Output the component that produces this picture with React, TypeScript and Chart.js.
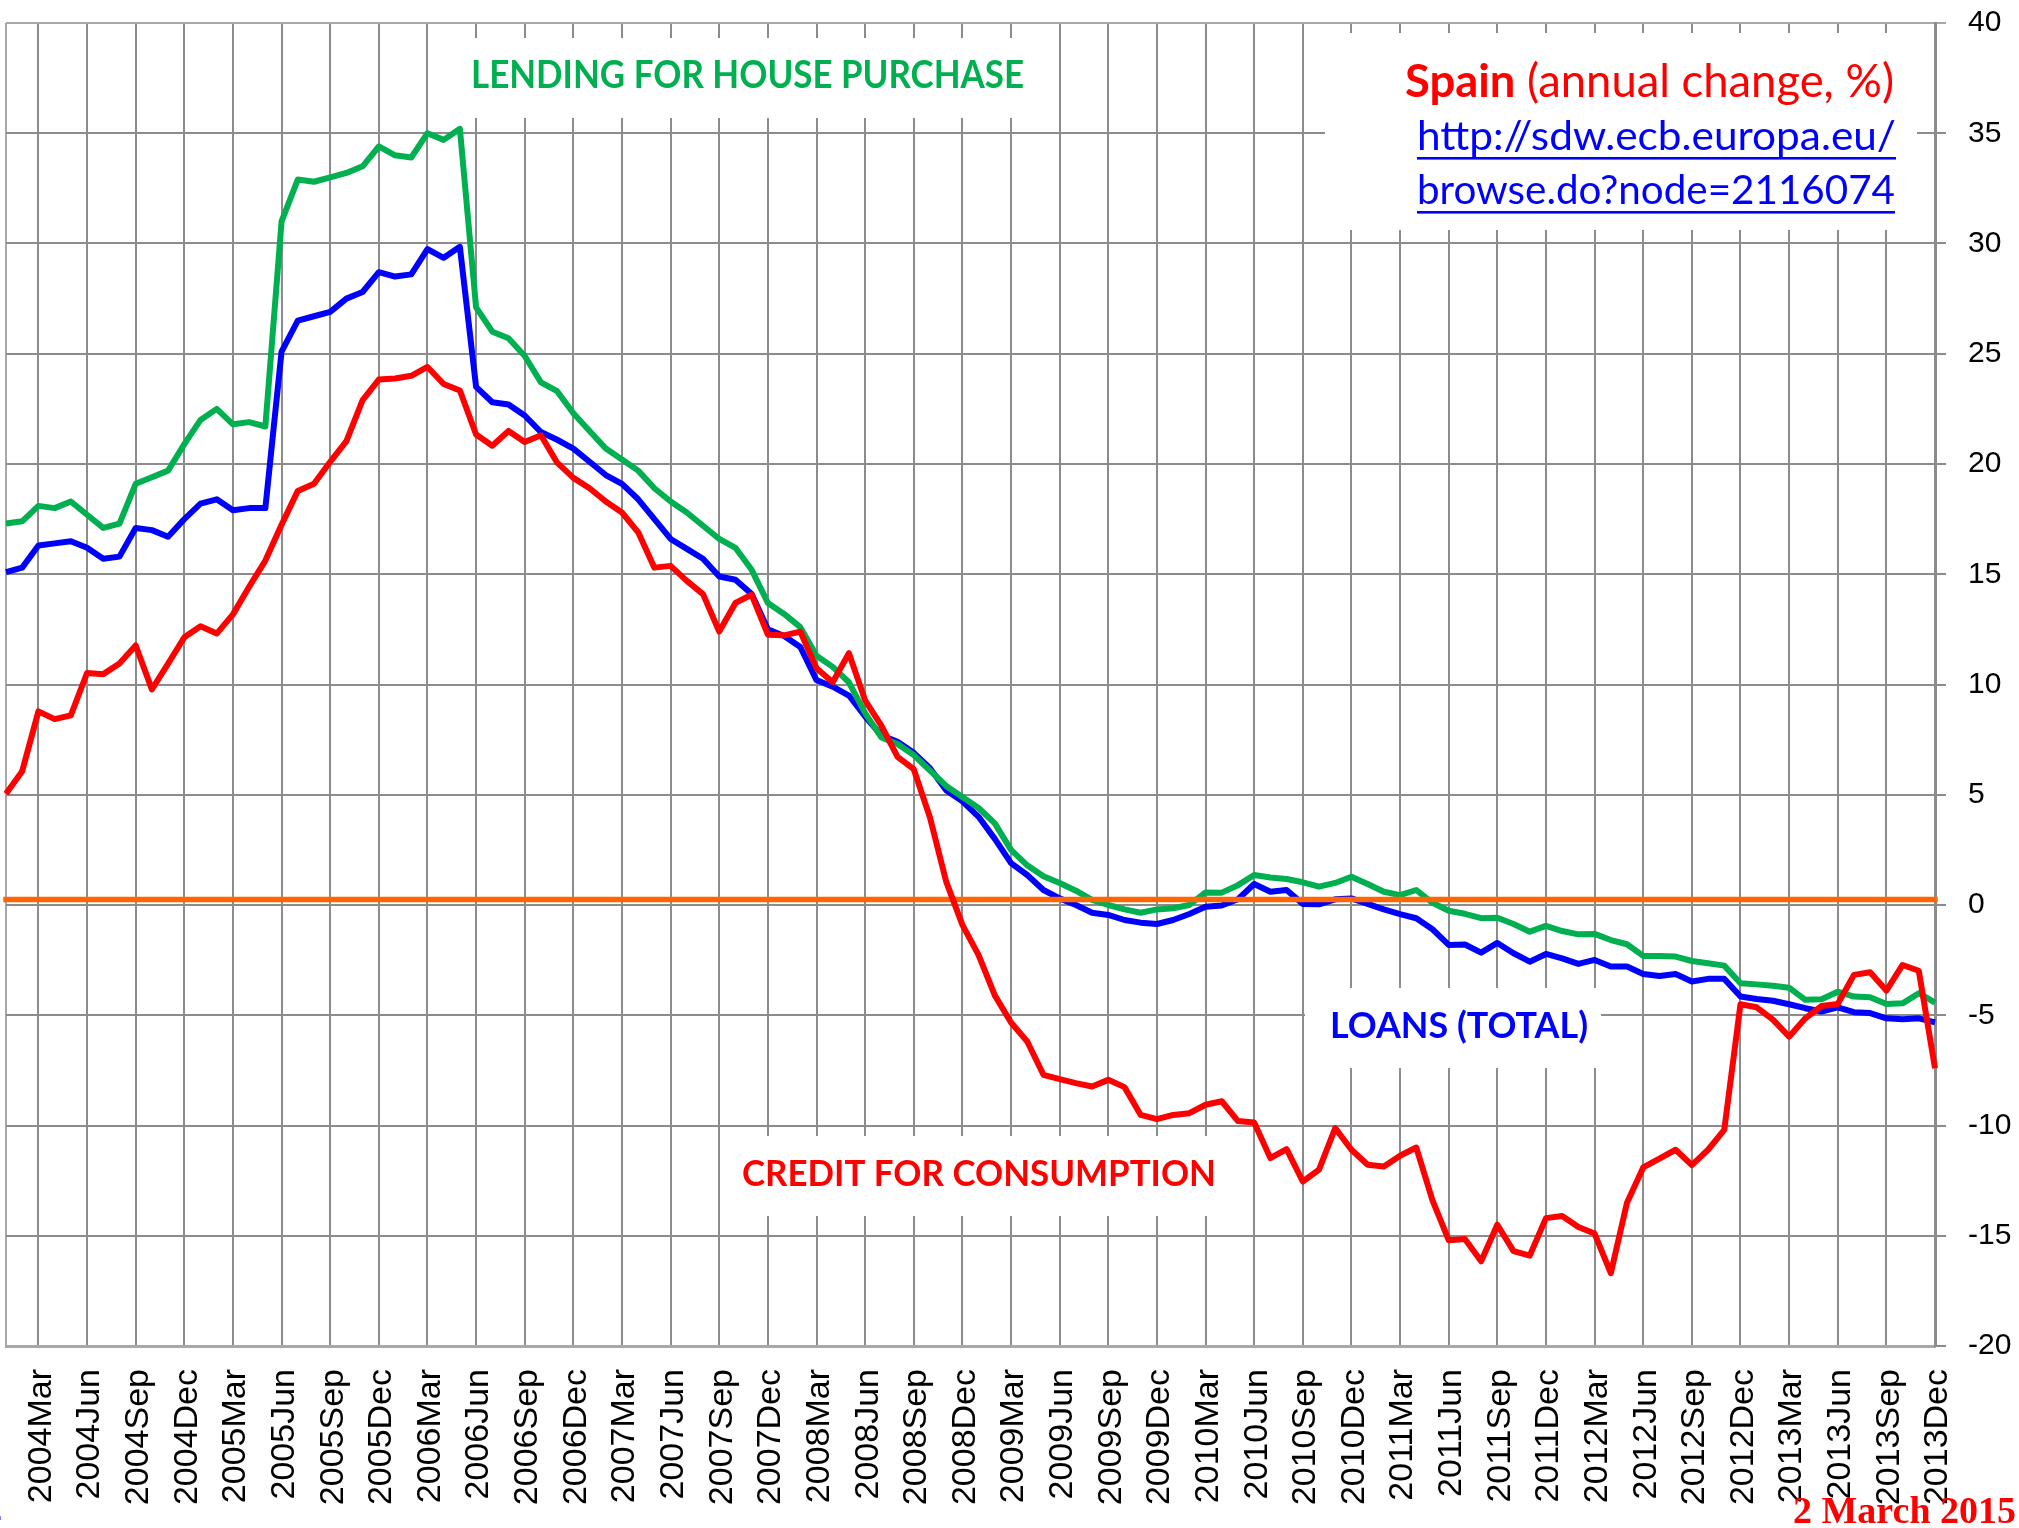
import React, { useEffect, useRef } from 'react';
import { Chart, registerables } from 'chart.js';

Chart.register(...registerables);

// ---------- categories ----------
const YEARS = [2004, 2005, 2006, 2007, 2008, 2009, 2010, 2011, 2012, 2013];
const MONTHS = ['Jan', 'Feb', 'Mar', 'Apr', 'May', 'Jun', 'Jul', 'Aug', 'Sep', 'Oct', 'Nov', 'Dec'];
const categories: string[] = YEARS.flatMap((y) => MONTHS.map((m) => `${y}${m}`));
const QUARTER_MONTHS = ['Mar', 'Jun', 'Sep', 'Dec'];

// ---------- series (annual change, %) ----------
const consumptionCredit = [
  5.05, 6.07, 8.78, 8.43, 8.6, 10.52, 10.47, 10.95, 11.77, 9.78, 10.95, 12.14,
  12.64, 12.31, 13.18, 14.43, 15.62, 17.24, 18.78, 19.1, 20.1, 21.04, 22.9, 23.83,
  23.88, 24.0, 24.4, 23.63, 23.33, 21.34, 20.83, 21.5, 21.0, 21.3, 20.06, 19.37,
  18.9, 18.3, 17.8, 16.9, 15.3, 15.38, 14.7, 14.1, 12.4, 13.7, 14.07, 12.26,
  12.23, 12.4, 10.74, 10.1, 11.42, 9.28, 8.14, 6.72, 6.16, 3.97, 1.06, -0.9,
  -2.27, -4.1, -5.33, -6.19, -7.7, -7.9, -8.08, -8.23, -7.93, -8.26, -9.52, -9.71,
  -9.52, -9.44, -9.06, -8.9, -9.8, -9.86, -11.48, -11.07, -12.54, -12.0, -10.12, -11.1,
  -11.78, -11.86, -11.37, -11.0, -13.4, -15.2, -15.15, -16.16, -14.5, -15.7, -15.9, -14.2,
  -14.1, -14.6, -14.9, -16.7, -13.5, -11.9, -11.5, -11.1, -11.8, -11.1, -10.2, -4.5,
  -4.64, -5.2, -5.97, -5.14, -4.58, -4.49, -3.17, -3.05, -3.88, -2.72, -2.98, -7.4,
];

const houseLending = [
  17.3, 17.4, 18.1, 18.0, 18.3, 17.7, 17.1, 17.3, 19.1, 19.4, 19.7, 20.9,
  22.0, 22.5, 21.8, 21.9, 21.7, 31.0, 32.9, 32.8, 33.0, 33.2, 33.5, 34.4,
  34.0, 33.9, 35.0, 34.7, 35.2, 27.1, 26.0, 25.7, 24.9, 23.7, 23.3, 22.3,
  21.5, 20.7, 20.2, 19.7, 18.9, 18.3, 17.8, 17.2, 16.6, 16.2, 15.2, 13.7,
  13.2, 12.6, 11.3, 10.8, 10.1, 8.7, 7.6, 7.3, 6.8, 6.1, 5.4, 4.9,
  4.4, 3.7, 2.5, 1.8, 1.3, 1.0, 0.65, 0.23, 0.0, -0.2, -0.35, -0.2,
  -0.15, 0.0, 0.57, 0.56, 0.9, 1.36, 1.25, 1.18, 1.03, 0.83, 1.0, 1.28,
  0.95, 0.6, 0.45, 0.68, 0.1, -0.26, -0.4, -0.6, -0.58, -0.86, -1.21, -0.95,
  -1.18, -1.33, -1.31, -1.59, -1.78, -2.31, -2.31, -2.34, -2.54, -2.64, -2.75, -3.55,
  -3.6, -3.66, -3.75, -4.3, -4.27, -3.93, -4.15, -4.18, -4.49, -4.46, -4.0, -4.43,
];

const totalLoans = [
  15.1, 15.3, 16.3, 16.4, 16.5, 16.2, 15.7, 15.8, 17.1, 17.0, 16.7, 17.5,
  18.2, 18.4, 17.9, 18.0, 18.0, 25.1, 26.5, 26.7, 26.9, 27.5, 27.8, 28.7,
  28.5, 28.6, 29.75, 29.35, 29.85, 23.5, 22.8, 22.7, 22.2, 21.45, 21.1, 20.7,
  20.1, 19.5, 19.1, 18.4, 17.5, 16.6, 16.15, 15.7, 14.9, 14.75, 14.1, 12.5,
  12.2, 11.7, 10.2, 9.9, 9.5, 8.55, 7.7, 7.4, 6.9, 6.2, 5.2, 4.7,
  4.0, 3.0, 1.9, 1.36, 0.68, 0.3, 0.0, -0.35, -0.45, -0.68, -0.8, -0.86,
  -0.68, -0.41, -0.08, -0.02, 0.26, 0.95, 0.6, 0.68, 0.05, 0.03, 0.26, 0.3,
  0.05, -0.2, -0.41, -0.6, -1.1, -1.81, -1.79, -2.16, -1.72, -2.19, -2.57, -2.22,
  -2.42, -2.67, -2.49, -2.79, -2.79, -3.13, -3.22, -3.13, -3.47, -3.35, -3.35, -4.15,
  -4.26, -4.34, -4.5, -4.68, -4.83, -4.64, -4.86, -4.9, -5.14, -5.18, -5.14, -5.32,
];

// orange reference line (slightly above zero, as in the source)
const zeroLineX = ['2004Jan', '2013Dec'];
const zeroLineY = [0.25, 0.25];

// y axis ticks
const Y_MIN = -20;
const Y_MAX = 40;
const Y_STEP = 5;

// ---------- styles ----------
const RED = '#FF0000';
const BLUE = '#0000FF';
const GREEN = '#00B050';
const ORANGE = '#FF6600';
const GRID = '#8c8c8c';
const FRAME = '#a8a8a8';
const W = 2019;
const H = 1528;

// ---------- annotation layout ----------
type Box = { x: number; y: number; w: number; h: number };
const whiteBoxes: Box[] = [
  { x: 450, y: 38, w: 595, h: 80 },
  { x: 1325, y: 33, w: 592, h: 197 },
  { x: 1305, y: 988, w: 296, h: 80 },
  { x: 720, y: 1136, w: 515, h: 80 },
];

type Run = { text: string; weight: string };
type TextItem = {
  runs: Run[];
  left: number;
  width: number;
  baseline: number;
  cap: number;
  color: string;
  family: string;
  capRatio: number;
  underline?: boolean;
  noScale?: boolean;
  size?: number;
};

const LATO = 'Lato, "Open Sans", sans-serif';
const textItems: TextItem[] = [
  { runs: [{ text: 'LENDING FOR HOUSE PURCHASE', weight: 'bold' }], left: 471, width: 553, baseline: 88, cap: 27.5, color: GREEN, family: LATO, capRatio: 0.7165 },
  { runs: [{ text: 'Spain', weight: 'bold' }, { text: ' (annual change, %)', weight: 'normal' }], left: 1405, width: 489, baseline: 97, cap: 33, color: RED, family: LATO, capRatio: 0.7165 },
  { runs: [{ text: 'http://sdw.ecb.europa.eu/', weight: 'normal' }], left: 1417, width: 479, baseline: 150, cap: 28.5, color: BLUE, family: LATO, capRatio: 0.7165, underline: true },
  { runs: [{ text: 'browse.do?node=2116074', weight: 'normal' }], left: 1417, width: 478, baseline: 204, cap: 28.5, color: BLUE, family: LATO, capRatio: 0.7165, underline: true },
  { runs: [{ text: 'LOANS (TOTAL)', weight: 'bold' }], left: 1330, width: 258, baseline: 1038, cap: 26.5, color: BLUE, family: LATO, capRatio: 0.7165 },
  { runs: [{ text: 'CREDIT FOR CONSUMPTION', weight: 'bold' }], left: 742, width: 474, baseline: 1186, cap: 26, color: RED, family: LATO, capRatio: 0.7165 },
  { runs: [{ text: '2 March 2015', weight: 'bold' }], left: 1793, width: 0, baseline: 1523, cap: 0, color: RED, family: '"Liberation Serif", "Times New Roman", serif', capRatio: 0.66, noScale: true, size: 38 },
  { runs: [{ text: '2', weight: 'bold' }], left: -15, width: 0, baseline: 1520, cap: 0, color: BLUE, family: '"Liberation Serif", "Times New Roman", serif', capRatio: 0.66, noScale: true, size: 34 },
];

const annotationPlugin = {
  id: 'annotations',
  beforeDatasetsDraw(chart: any) {
    const ctx: CanvasRenderingContext2D = chart.ctx;
    ctx.save();
    ctx.fillStyle = '#ffffff';
    for (const b of whiteBoxes) ctx.fillRect(b.x, b.y, b.w, b.h);
    ctx.restore();
  },
  afterDraw(chart: any) {
    const ctx: CanvasRenderingContext2D = chart.ctx;
    for (const t of textItems) {
      ctx.save();
      ctx.fillStyle = t.color;
      ctx.textBaseline = 'alphabetic';
      ctx.textAlign = 'left';
      const size = t.size ?? t.cap / t.capRatio;
      let total = 0;
      const widths: number[] = [];
      for (const r of t.runs) {
        ctx.font = `${r.weight} ${size}px ${t.family}`;
        const w = ctx.measureText(r.text).width;
        widths.push(w);
        total += w;
      }
      const sx = t.noScale ? 1 : t.width / total;
      ctx.translate(t.left, t.baseline);
      ctx.scale(sx, 1);
      let x = 0;
      t.runs.forEach((r, k) => {
        ctx.font = `${r.weight} ${size}px ${t.family}`;
        ctx.fillText(r.text, x, 0);
        x += widths[k];
      });
      if (t.underline) {
        ctx.fillRect(0, 7, total, 2.6);
      }
      ctx.restore();
    }
  },
};

const zeroPadding = (s: any) => {
  s.paddingLeft = 0;
  s.paddingRight = 0;
  s.paddingTop = 0;
  s.paddingBottom = 0;
};

export default function App() {
  const ref = useRef<HTMLCanvasElement>(null);

  useEffect(() => {
    if (!ref.current) return;
    const chart = new Chart(ref.current, {
      type: 'line',
      data: {
        labels: categories,
        datasets: [
          { label: 'Credit for consumption', data: consumptionCredit, borderColor: RED, backgroundColor: RED, borderWidth: 6 },
          {
            label: 'Zero',
            data: zeroLineX.map((x, k) => ({ x, y: zeroLineY[k] })) as any,
            borderColor: ORANGE,
            backgroundColor: ORANGE,
            borderWidth: 5.5,
            borderCapStyle: 'square',
            clip: false as any,
          },
          { label: 'Lending for house purchase', data: houseLending, borderColor: GREEN, backgroundColor: GREEN, borderWidth: 6 },
          { label: 'Loans (total)', data: totalLoans, borderColor: BLUE, backgroundColor: BLUE, borderWidth: 6 },
        ],
      },
      options: {
        responsive: false,
        animation: false,
        devicePixelRatio: 1,
        layout: { padding: { left: 6, top: 23, right: 0, bottom: 0 } },
        elements: {
          line: { tension: 0, borderJoinStyle: 'round' },
          point: { radius: 0, hoverRadius: 0 },
        },
        plugins: {
          legend: { display: false },
          tooltip: { enabled: false },
          title: { display: false },
        },
        scales: {
          x: {
            type: 'category',
            offset: false,
            grid: {
              drawTicks: false,
              lineWidth: 2,
              color: (c: any) => {
                const i = c.index;
                if (i === 0) return FRAME;
                const lab = categories[i] || '';
                return QUARTER_MONTHS.includes(lab.slice(4)) ? GRID : 'rgba(0,0,0,0)';
              },
            },
            border: { display: true, color: FRAME, width: 3 },
            ticks: {
              autoSkip: false,
              maxRotation: 90,
              minRotation: 90,
              padding: 23,
              labelOffset: 3,
              color: '#000',
              font: { family: '"Liberation Sans", Arial, sans-serif', size: 34 },
              callback: (_v: any, i: number) => {
                const lab = categories[i];
                return QUARTER_MONTHS.includes(lab.slice(4)) ? lab : '';
              },
            },
            afterFit: (s: any) => {
              s.height = 182;
              zeroPadding(s);
            },
          },
          y: {
            position: 'right',
            min: Y_MIN,
            max: Y_MAX,
            grid: {
              lineWidth: 2,
              drawTicks: true,
              tickLength: 11,
              color: (c: any) => (c.tick && c.tick.value === Y_MAX ? FRAME : GRID),
            },
            border: { display: true, color: GRID, width: 3 },
            ticks: {
              stepSize: Y_STEP,
              padding: 22,
              color: '#000',
              font: { family: '"Liberation Sans", Arial, sans-serif', size: 30 },
            },
            afterFit: (s: any) => {
              s.width = 84;
              zeroPadding(s);
            },
          },
        },
      },
      plugins: [annotationPlugin],
    });
    return () => chart.destroy();
  }, []);

  return (
    <div style={{ position: 'fixed', left: 0, top: 0, width: W, height: H, background: '#fff', overflow: 'hidden' }}>
      <canvas ref={ref} width={W} height={H} style={{ width: W, height: H, display: 'block' }} />
    </div>
  );
}
